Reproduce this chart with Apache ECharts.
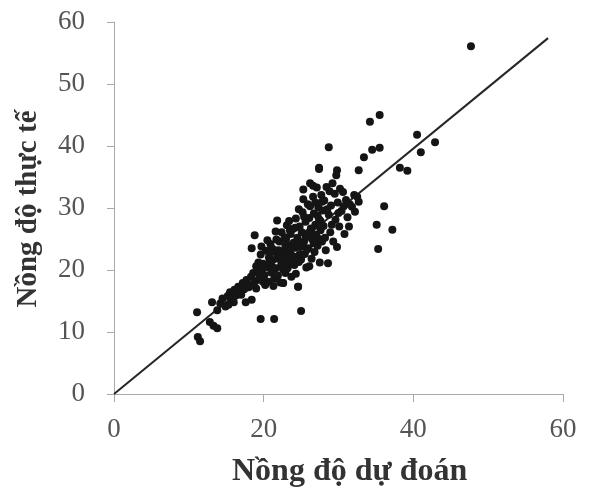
<!DOCTYPE html>
<html>
<head>
<meta charset="utf-8">
<script src="https://cdn.jsdelivr.net/npm/echarts@6/dist/echarts.min.js"></script>
<style>html,body{margin:0;padding:0;background:#fff;}#c{width:591px;height:492px;}</style>
</head>
<body>
<div id="c"></div>
<script>
const xTitle = "Nồng độ dự đoán";
const yTitle = "Nồng độ thực tế";
const xTicks = [0, 20, 40, 60];
const yTicks = [0, 10, 20, 30, 40, 50, 60];
const refLineX = [0, 58];
const refLineY = [0, 57.4];

const lowPoints = [
 [11.2,9.2],[11.5,8.5],[11.1,13.2],[12.8,11.6],[13.3,11.0],[13.8,10.6],[13.1,14.8],[13.8,13.5],[14.2,14.6],[14.5,15.4],
 [14.9,14.1],[15.2,15.8],[15.5,16.4],[15.8,15.1],[16.1,16.8],[16.3,15.9],[16.6,17.3],[16.9,16.4],[17.2,17.9],[17.4,16.9],
 [17.7,18.4],[17.6,14.8],[18.4,15.2],[18.0,17.2],[18.3,18.9],[18.6,19.5],[18.9,18.2],[19.2,19.9],[19.5,18.8],[19.8,20.4],
 [19.0,17.0],[18.6,17.6],[17.0,16.0],[16.0,14.8],[15.3,14.4]
];
const coreA = [
 [19.3,21.2],[19.6,22.5],[19.9,21.0],[20.1,19.2],[20.3,23.1],[20.4,20.5],[20.6,18.1],[20.7,22.0],[20.9,24.2],[21.0,19.6],
 [21.2,21.6],[21.3,17.4],[21.5,23.2],[21.6,20.3],[21.8,22.6],[19.4,19.6],[20.0,20.8],[20.8,21.3],[21.1,23.5],[19.7,23.8],
 [20.5,24.8],[21.4,18.6],[21.9,19.1],[20.2,17.6]
];
const coreB = [
 [22.0,21.8],[22.1,24.6],[22.2,18.0],[22.3,20.6],[22.4,26.1],[22.5,23.0],[22.6,17.9],[22.7,21.4],[22.8,25.3],[22.9,19.5],
 [23.0,22.5],[23.1,27.2],[23.2,20.3],[23.3,24.0],[23.4,23.1],[23.5,21.0],[23.6,25.8],[23.7,18.9],[23.8,22.3],[23.9,26.6],
 [24.0,24.4],[24.1,20.8],[24.2,23.6],[24.3,28.3],[24.4,22.1],[24.5,25.2],[24.6,17.3],[24.7,21.3],[24.8,27.0],[24.9,23.7],
 [21.8,28.0],[22.3,22.5],[22.9,23.9],[23.5,26.4],[23.9,21.6],[24.3,19.4],[22.6,20.1],[23.3,22.0],[24.6,24.2]
];
const coreC = [
 [25.0,21.7],[25.1,26.1],[25.2,29.3],[25.3,33.0],[25.4,24.6],[25.5,22.6],[25.6,27.8],[25.7,20.4],[25.8,25.5],[25.9,30.6],
 [26.0,23.5],[26.1,28.4],[26.2,34.0],[26.3,26.7],[26.4,21.8],[26.5,24.9],[26.6,31.8],[26.7,29.1],[26.8,22.9],[26.9,27.3],
 [27.0,25.7],[27.1,33.3],[27.2,23.9],[27.3,30.1],[27.4,28.2],[27.5,21.2],[27.6,26.4],[27.7,32.1],[27.8,24.6],[27.9,29.6],
 [25.3,31.4],[25.8,23.3],[26.4,26.0],[26.9,30.9],[27.3,25.1],[25.6,25.2],[26.1,20.6],[27.6,27.9],[26.6,33.6]
];
const coreD = [
 [28.0,27.1],[28.1,31.2],[28.3,23.2],[28.4,33.4],[28.6,21.1],[28.7,28.9],[28.9,26.1],[29.0,30.4],[29.2,34.0],[29.3,24.6],
 [29.5,32.3],[29.6,28.1],[29.8,23.7],[29.9,30.9],[30.1,27.0],[30.2,33.1],[30.4,29.5],[30.6,32.6],[30.8,25.8],[31.0,31.3],
 [31.2,28.5],[31.5,30.6],[31.8,30.2],[32.1,32.1],[32.2,29.4],[32.5,31.8],[28.5,29.8],[29.1,27.3],[30.0,29.2],[30.7,30.3],
 [28.2,25.2],[31.4,27.0],[29.7,35.3],[27.4,36.5],[28.7,39.8],[32.7,31.0]
];
const coreE = [
 [20.9,22.8],[21.7,24.9],[22.4,21.1],[23.0,25.0],[23.6,23.4],[24.2,26.8],[24.8,22.5],[25.4,28.6],[26.0,26.0],[26.7,24.3],
 [27.2,28.8],[21.2,20.4],[22.0,23.2],[22.8,22.0],[23.4,27.9],[24.0,21.9],[24.7,29.8],[25.2,24.0],[26.2,30.3],[27.8,31.0],
 [28.8,32.7],[19.0,20.6],[19.9,18.1],[21.6,26.2]
];
const outliers = [
 [47.7,56.1],[34.2,43.9],[35.5,45.0],[40.5,41.8],[42.9,40.6],[41.0,39.0],[35.5,39.7],[34.5,39.4],[33.4,38.2],[32.7,36.1],
 [38.2,36.5],[39.2,36.0],[36.1,30.3],[35.1,27.3],[37.2,26.5],[35.3,23.4],[27.4,36.3],[29.8,36.1],[18.8,25.6],[18.4,23.5],
 [19.6,12.1],[21.4,12.1],[25.0,13.4],[24.6,17.3],[22.6,17.9]
];

const points = [].concat(lowPoints, coreA, coreB, coreC, coreD, coreE, outliers);

const chart = echarts.init(document.getElementById('c'), null, {renderer: 'canvas'});
const serif = '"Liberation Serif","DejaVu Serif",serif';
const axisGray = '#a9a9a9';
const labelGray = '#555555';

chart.setOption({
  animation: false,
  backgroundColor: '#ffffff',
  grid: {left: 114, right: 28, top: 22, bottom: 98, containLabel: false},
  xAxis: {
    type: 'value', min: xTicks[0], max: xTicks[xTicks.length - 1], interval: 20,
    axisLine: {show: true, onZero: false, lineStyle: {color: axisGray, width: 1}},
    axisTick: {show: true, length: 8, inside: false, lineStyle: {color: axisGray}},
    axisLabel: {fontFamily: serif, fontSize: 27, color: labelGray, margin: 22},
    splitLine: {show: false}
  },
  yAxis: {
    type: 'value', min: yTicks[0], max: yTicks[yTicks.length - 1], interval: 10,
    axisLine: {show: true, onZero: false, lineStyle: {color: axisGray, width: 1}},
    axisTick: {show: true, length: 7, inside: false, lineStyle: {color: axisGray}},
    axisLabel: {fontFamily: serif, fontSize: 27, color: labelGray, margin: 29},
    splitLine: {show: false}
  },
  series: [
    {
      type: 'line',
      data: refLineX.map((x, i) => [x, refLineY[i]]),
      symbol: 'none',
      lineStyle: {color: '#262626', width: 2},
      z: 3
    },
    {
      type: 'scatter',
      data: points,
      symbolSize: 8,
      itemStyle: {color: '#151515', opacity: 1},
      z: 4
    }
  ],
  graphic: [
    {
      type: 'text', left: 232, top: 456,
      style: {text: xTitle, font: 'bold 32px ' + serif, fill: '#333333'}
    },
    {
      type: 'text', x: 29, y: 209, rotation: Math.PI / 2,
      style: {text: yTitle, font: 'bold 29px ' + serif, fill: '#333333', align: 'center', verticalAlign: 'middle'}
    }
  ]
});
</script>
</body>
</html>
